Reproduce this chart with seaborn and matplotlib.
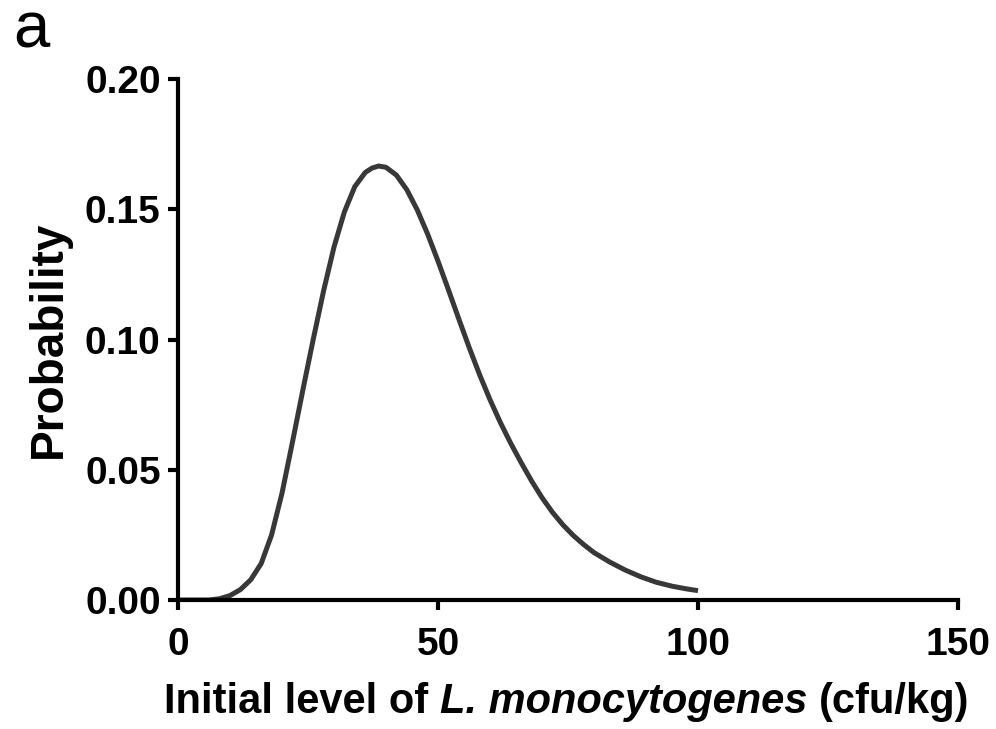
import matplotlib
matplotlib.use("Agg")
import matplotlib.pyplot as plt
import seaborn as sns
import pandas as pd

# Values
level = [0, 6, 8, 10, 12, 14, 16, 18, 20, 22, 24, 26, 28, 30, 32, 34, 36, 37.3,
         38.6, 40, 42, 44, 46, 48, 50, 52, 54, 56, 58, 60, 62, 64, 66, 68, 70, 72,
         74, 76, 78, 80, 83, 86, 89, 92, 95, 98, 100]
probability = [0.0, 0.0, 0.0005, 0.0017, 0.0040, 0.0078, 0.0140, 0.0250, 0.0410,
               0.0605, 0.0805, 0.1000, 0.1187, 0.1355, 0.1490, 0.1587, 0.1641,
               0.1658, 0.1666, 0.1661, 0.1631, 0.1575, 0.1498, 0.1405, 0.1301,
               0.1191, 0.1079, 0.0969, 0.0865, 0.0769, 0.0681, 0.0601, 0.0527,
               0.0457, 0.0393, 0.0337, 0.0289, 0.0248, 0.0213, 0.0182, 0.0146,
               0.0115, 0.0089, 0.0068, 0.0053, 0.0042, 0.0036]
x_ticks = [0, 50, 100, 150]
y_ticks = [0.00, 0.05, 0.10, 0.15, 0.20]
y_tick_labels = ["0.00", "0.05", "0.10", "0.15", "0.20"]
xlabel_parts = [("Initial level of", "normal"), ("L. monocytogenes", "italic"),
                ("(cfu/kg)", "normal")]

df = pd.DataFrame({"level": level, "probability": probability})

sns.set_style("ticks")
plt.rcParams['font.family'] = ['Liberation Sans', 'DejaVu Sans']
plt.rcParams['text.color'] = 'black'
plt.rcParams['axes.labelcolor'] = 'black'
plt.rcParams['xtick.color'] = 'black'
plt.rcParams['ytick.color'] = 'black'

W, H = 996, 729
fig = plt.figure(figsize=(W / 100, H / 100), dpi=100)
ax = fig.add_axes([178/W, 1 - 600/H, (958-178)/W, (600-79)/H])

sns.lineplot(data=df, x="level", y="probability", ax=ax, color="#383838",
             linewidth=3.6, solid_capstyle="butt", solid_joinstyle="round")

ax.set_xlim(0, 150)
ax.set_ylim(0, 0.20)
ax.set_xticks(x_ticks)
ax.set_yticks(y_ticks)
ax.set_xticklabels([str(t) for t in x_ticks])
ax.set_yticklabels(y_tick_labels)

for s in ["top", "right"]:
    ax.spines[s].set_visible(False)
for s in ["left", "bottom"]:
    ax.spines[s].set_linewidth(3.0)
    ax.spines[s].set_color("black")
    ax.spines[s].set_capstyle("projecting")

ax.tick_params(axis="both", direction="out", length=7.5, width=3.0, color="black",
               labelsize=28, labelcolor="black")
ax.tick_params(axis="y", pad=5)
ax.tick_params(axis="x", pad=12)
for lab in ax.get_xticklabels() + ax.get_yticklabels():
    lab.set_fontweight("bold")

ax.set_xlabel("")
ax.set_ylabel("Probability", fontsize=33, fontweight="bold", labelpad=10,
              color="black")

# x label built from pieces so that only the species name is italic
fs = 30
renderer = fig.canvas.get_renderer()
texts = []
for s, style in xlabel_parts:
    t = fig.text(0, 1 - 713/H, s, fontsize=fs, fontweight="bold", fontstyle=style,
                 ha="left", va="baseline", color="black")
    texts.append(t)
probe1 = fig.text(0, 0, "n n", fontsize=fs, fontweight="bold")
probe2 = fig.text(0, 0, "nn", fontsize=fs, fontweight="bold")
space_w = (probe1.get_window_extent(renderer).width
           - probe2.get_window_extent(renderer).width)
probe1.remove()
probe2.remove()
widths = [t.get_window_extent(renderer).width for t in texts]
total = sum(widths) + space_w * (len(texts) - 1)
x0 = 567 - total / 2
for t, w in zip(texts, widths):
    t.set_x(x0 / W)
    x0 += w + space_w

fig.text(13/W, 1 - 48/H, "a", fontsize=47, ha="left", va="baseline",
         color="black")

fig.savefig("out.png", dpi=100)
